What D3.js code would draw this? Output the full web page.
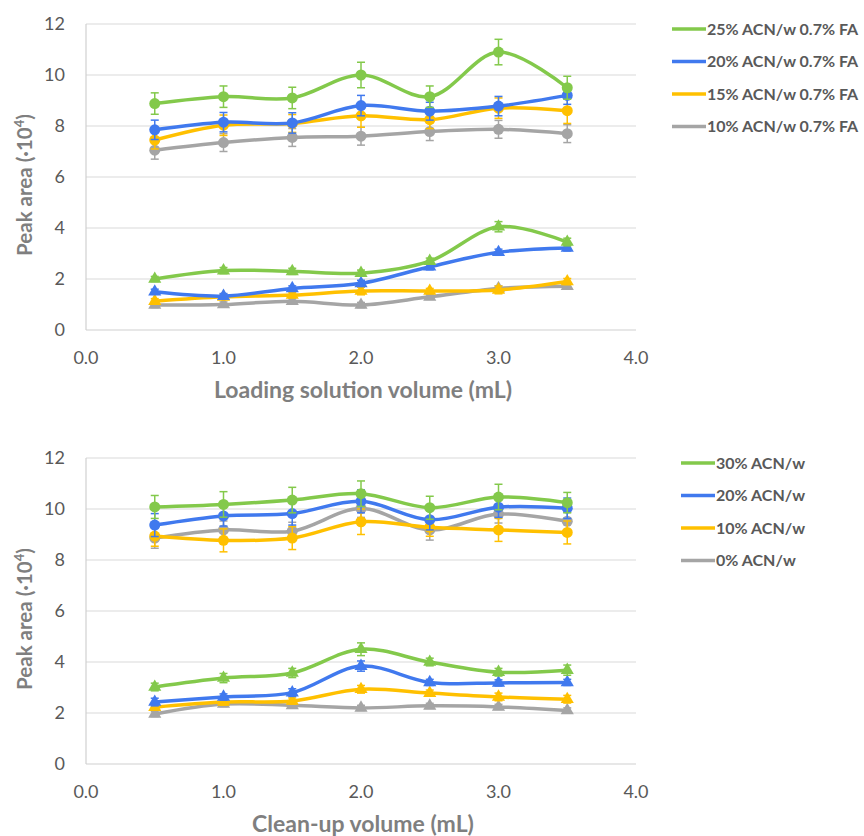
<!DOCTYPE html>
<html>
<head>
<meta charset="utf-8">
<script src="https://cdn.jsdelivr.net/npm/d3@7"></script>
<style>
  body { margin: 0; background: #fff; }
  text { font-family: Lato, "Open Sans", sans-serif; }
</style>
</head>
<body>
<div id="viz"></div>
<script>
// x values shared by every series
var volumes = [0.5, 1.0, 1.5, 2.0, 2.5, 3.0, 3.5];
var xTicks = [0, 1, 2, 3, 4];
var yTicks = [0, 2, 4, 6, 8, 10, 12];

// top panel: loading solution
var topLabels = ["25% ACN/w 0.7% FA", "20% ACN/w 0.7% FA", "15% ACN/w 0.7% FA", "10% ACN/w 0.7% FA"];
// circles (upper group)
var topHigh = [
  [8.88, 9.15, 9.1, 10.0, 9.15, 10.9, 9.5],
  [7.85, 8.15, 8.12, 8.8, 8.58, 8.78, 9.2],
  [7.45, 8.03, 8.1, 8.4, 8.25, 8.7, 8.6],
  [7.05, 7.35, 7.55, 7.6, 7.78, 7.87, 7.7]
];
var topHighErr = [
  [0.42, 0.42, 0.42, 0.5, 0.42, 0.5, 0.45],
  [0.38, 0.38, 0.4, 0.4, 0.35, 0.38, 0.35],
  [0.35, 0.4, 0.35, 0.45, 0.35, 0.4, 0.5],
  [0.35, 0.35, 0.35, 0.35, 0.35, 0.35, 0.35]
];
// triangles (lower group)
var topLow = [
  [2.0, 2.33, 2.3, 2.23, 2.7, 4.05, 3.45],
  [1.5, 1.33, 1.63, 1.83, 2.48, 3.05, 3.22],
  [1.13, 1.3, 1.37, 1.53, 1.53, 1.57, 1.9],
  [0.98, 1.0, 1.13, 0.98, 1.3, 1.63, 1.72]
];
var topLowErr = [
  [0.1, 0.12, 0.12, 0.12, 0.12, 0.2, 0.15],
  [0.1, 0.1, 0.1, 0.12, 0.12, 0.12, 0.12],
  [0.1, 0.1, 0.1, 0.15, 0.1, 0.15, 0.12],
  [0.1, 0.1, 0.1, 0.1, 0.1, 0.1, 0.12]
];

// bottom panel: clean-up
var botLabels = ["30% ACN/w", "20% ACN/w", "10% ACN/w", "0% ACN/w"];
var botHigh = [
  [10.08, 10.18, 10.35, 10.6, 10.05, 10.47, 10.25],
  [9.37, 9.73, 9.82, 10.3, 9.58, 10.07, 10.03],
  [8.94, 8.77, 8.86, 9.5, 9.28, 9.18, 9.08],
  [8.86, 9.18, 9.13, 10.02, 9.18, 9.8, 9.52]
];
var botHighErr = [
  [0.45, 0.5, 0.5, 0.5, 0.45, 0.5, 0.4],
  [0.45, 0.4, 0.45, 0.45, 0.4, 0.4, 0.4],
  [0.4, 0.45, 0.45, 0.5, 0.35, 0.45, 0.45],
  [0.4, 0.35, 0.35, 0.35, 0.4, 0.35, 0.35]
];
var botLow = [
  [3.02, 3.37, 3.57, 4.5, 4.0, 3.6, 3.68],
  [2.43, 2.63, 2.8, 3.84, 3.2, 3.18, 3.2],
  [2.23, 2.43, 2.47, 2.93, 2.78, 2.63, 2.54],
  [1.96, 2.35, 2.3, 2.2, 2.28, 2.24, 2.1]
];
var botLowErr = [
  [0.15, 0.18, 0.18, 0.25, 0.15, 0.15, 0.2],
  [0.15, 0.12, 0.15, 0.2, 0.12, 0.12, 0.12],
  [0.12, 0.12, 0.12, 0.15, 0.12, 0.15, 0.15],
  [0.1, 0.1, 0.1, 0.1, 0.1, 0.1, 0.1]
];

var colors = ["#83C94B", "#4079EE", "#FFC000", "#A5A5A5"];

var svg = d3.select("#viz").append("svg")
  .attr("width", 864).attr("height", 836);

function panel(top, title, labels, high, highErr, low, lowErr, legX) {
  var x = d3.scaleLinear().domain([0, 4]).range([86, 636]);
  var y = d3.scaleLinear().domain([0, 12]).range([top + 306, top]);
  var g = svg.append("g");

  // grid
  g.selectAll(".grid").data(yTicks.slice(1)).enter().append("line")
    .attr("x1", x(0)).attr("x2", x(4))
    .attr("y1", d => y(d)).attr("y2", d => y(d))
    .style("stroke", "#d9d9d9").style("stroke-width", 1);
  g.append("line").attr("x1", x(0)).attr("x2", x(4)).attr("y1", y(0)).attr("y2", y(0))
    .style("stroke", "#d0d0d0").style("stroke-width", 1.2);
  g.append("line").attr("x1", x(0)).attr("x2", x(0)).attr("y1", y(0)).attr("y2", y(12))
    .style("stroke", "#d0d0d0").style("stroke-width", 1.2);

  // tick labels
  g.selectAll(".yl").data(yTicks).enter().append("text")
    .attr("x", 65).attr("y", d => y(d) + 6)
    .attr("text-anchor", "end").style("font-size", "18px").style("fill", "#595959")
    .text(d => d);
  g.selectAll(".xl").data(xTicks).enter().append("text")
    .attr("x", d => x(d)).attr("y", y(0) + 34)
    .attr("text-anchor", "middle").style("font-size", "18px").style("fill", "#595959")
    .text(d => d.toFixed(1));

  // titles
  g.append("text").attr("x", 363).attr("y", y(0) + 68)
    .attr("text-anchor", "middle").style("font-size", "23px").style("font-weight", "bold")
    .style("fill", "#7f7f7f").text(title);
  g.append("text")
    .attr("transform", "translate(32," + (top + 161) + ") rotate(-90)")
    .attr("text-anchor", "middle").style("font-size", "20.5px").style("font-weight", "bold")
    .style("fill", "#7f7f7f")
    .html('Peak area (·10<tspan dy="-8" font-size="13px">4</tspan><tspan dy="8">)</tspan>');

  var line = d3.line().x((d, i) => x(volumes[i])).y(d => y(d)).curve(d3.curveCatmullRom.alpha(0.5));
  var tri = d3.symbol().type(d3.symbolTriangle).size(75);

  function drawGroup(vals, errs, marker) {
    // draw back to front so green is on top
    for (var s = vals.length - 1; s >= 0; s--) {
      var c = colors[s];
      var sg = g.append("g");
      sg.append("path").datum(vals[s]).attr("d", line)
        .style("fill", "none").style("stroke", c).style("stroke-width", 3.5);
      vals[s].forEach(function (v, i) {
        var e = errs[s][i], cx = x(volumes[i]);
        sg.append("line").attr("x1", cx).attr("x2", cx).attr("y1", y(v - e)).attr("y2", y(v + e))
          .style("stroke", c).style("stroke-width", 1.5);
        [v - e, v + e].forEach(function (w) {
          sg.append("line").attr("x1", cx - 4).attr("x2", cx + 4).attr("y1", y(w)).attr("y2", y(w))
            .style("stroke", c).style("stroke-width", 1.5);
        });
        if (marker === "circle") {
          sg.append("circle").attr("cx", cx).attr("cy", y(v)).attr("r", 5.5).style("fill", c);
        } else {
          sg.append("path").attr("d", tri).attr("transform", "translate(" + cx + "," + y(v) + ")")
            .style("fill", c);
        }
      });
    }
  }
  drawGroup(high, highErr, "circle");
  drawGroup(low, lowErr, "triangle");

  // legend
  var lg = g.selectAll(".leg").data(labels).enter().append("g")
    .attr("transform", (d, i) => "translate(" + legX + "," + (top + 5 + i * 32.5) + ")");
  lg.append("line").attr("x1", 0).attr("x2", 34).attr("y1", 0).attr("y2", 0)
    .style("stroke", (d, i) => colors[i]).style("stroke-width", 3.5);
  lg.append("text").attr("x", 35).attr("y", 5.5).style("font-size", "16px").style("font-weight", "bold")
    .style("fill", "#595959").text(d => d);
}

panel(24, "Loading solution volume (mL)", topLabels, topHigh, topHighErr, topLow, topLowErr, 672);
panel(458, "Clean-up volume (mL)", botLabels, botHigh, botHighErr, botLow, botLowErr, 681);
</script>
</body>
</html>
